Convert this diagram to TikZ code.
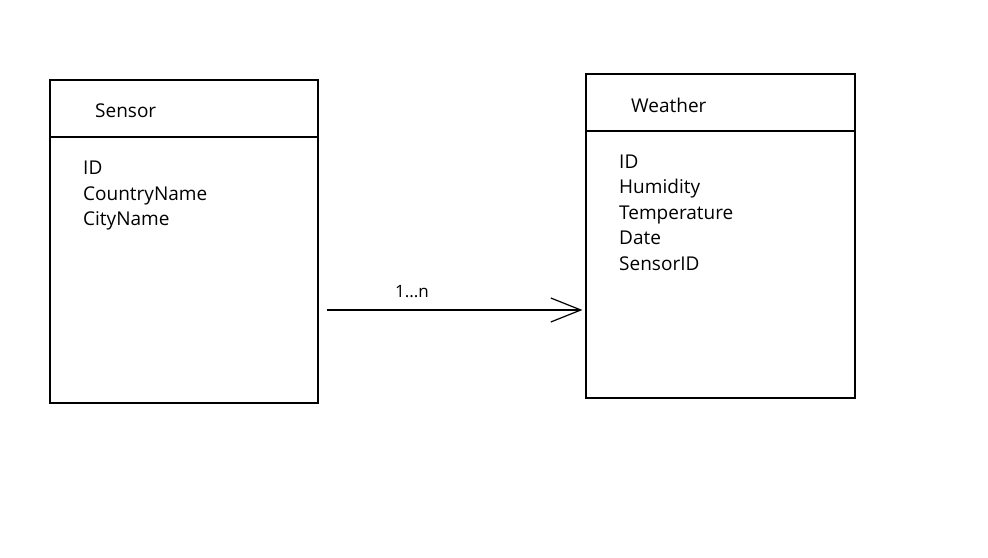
\documentclass[tikz,border=0pt]{standalone}
\usepackage{fontspec}
\setmainfont{Open Sans}
\usetikzlibrary{calc,arrows.meta}
\usetikzlibrary{positioning}

\begin{document}
\begin{tikzpicture}[x=1pt,y=-1pt,
  entity/.style={draw,line width=1.2pt,inner sep=0pt},
  headtext/.style={anchor=base west,inner sep=0pt,font=\fontsize{19}{22}\selectfont},
  fieldtext/.style={anchor=base west,inner sep=0pt,font=\fontsize{19}{22}\selectfont}]
\useasboundingbox (0,0) rectangle (988,557);
% the two tables
\node[entity,minimum width=268pt,minimum height=323pt](sensor) at (184,241.5){};
\node[entity,minimum width=269pt,minimum height=324pt](weather) at (720.5,236){};
\draw[line width=1.2pt] (sensor.west |- 0,137) -- (sensor.east |- 0,137);
\draw[line width=1.2pt] (weather.west |- 0,131) -- (weather.east |- 0,131);
\node[headtext](sensor-title) at (95,117){Sensor};
\node[headtext](weather-title) at (631,112){Weather};
% fields
\foreach \name [count=\i] in {ID,CountryName,CityName}
  \node[fieldtext](sensor-f\i) at (83,149+25.5*\i){\name};
\foreach \name [count=\i] in {ID,Humidity,Temperature,Date,SensorID}
  \node[fieldtext](weather-f\i) at (619,142.5+25.5*\i){\name};
% relation
\coordinate (link-start) at (327,310);
\draw[line width=1.2pt,-{Straight Barb[length=30pt,width=24pt,line width=1.2pt]}]
  (link-start) -- ([xshift=-3pt]weather.west |- link-start);
\node[headtext,font=\fontsize{17}{20}\selectfont](link-label) at (395,297){1...n};
\end{tikzpicture}
\end{document}
